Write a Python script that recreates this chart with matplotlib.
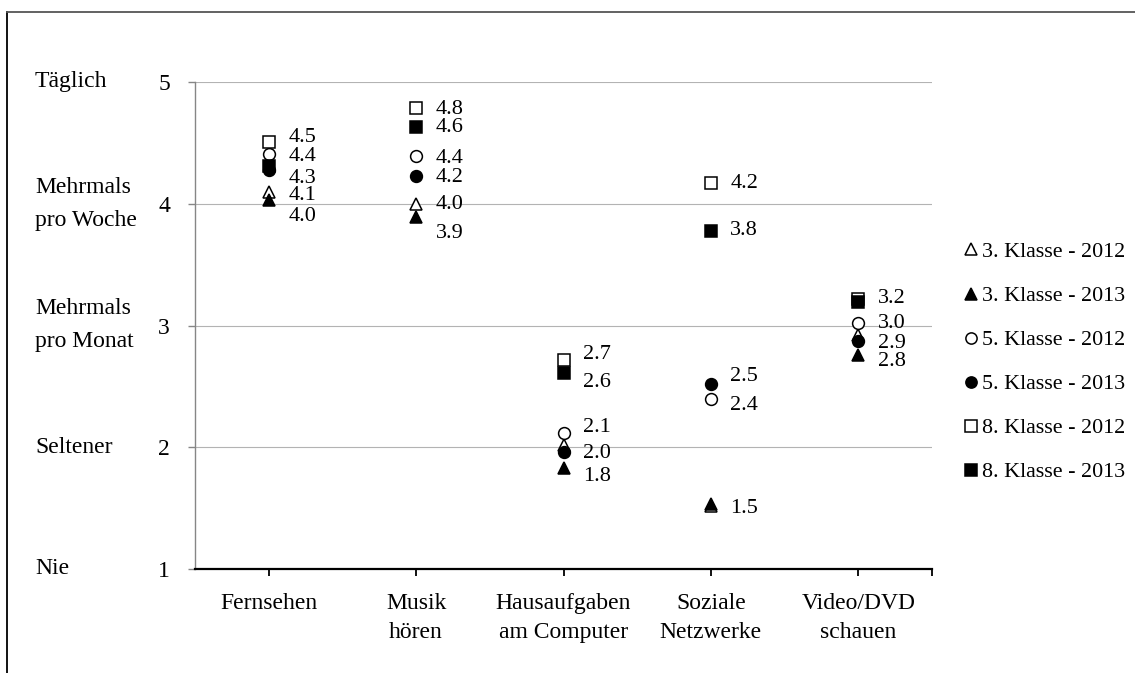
import numpy as np
import matplotlib.pyplot as plt
from matplotlib.lines import Line2D
import matplotlib.transforms as mtransforms

plt.rcParams['font.family'] = ['Liberation Serif', 'DejaVu Serif']

# --- DATA ---
categories = ["Fernsehen", "Musik\nhören", "Hausaufgaben\nam Computer",
              "Soziale\nNetzwerke", "Video/DVD\nschauen"]
level_labels = ["Nie", "Seltener", "Mehrmals\npro Monat", "Mehrmals\npro Woche", "Täglich"]
level_values = [1, 2, 3, 4, 5]

series_names = ["3. Klasse - 2012", "3. Klasse - 2013", "5. Klasse - 2012",
                "5. Klasse - 2013", "8. Klasse - 2012", "8. Klasse - 2013"]
klasse3_2012 = [4.10, 4.00, 2.02, 1.52, 2.92]
klasse3_2013 = [4.03, 3.89, 1.83, 1.53, 2.76]
klasse5_2012 = [4.41, 4.39, 2.12, 2.40, 3.02]
klasse5_2013 = [4.28, 4.23, 1.96, 2.52, 2.87]
klasse8_2012 = [4.51, 4.79, 2.72, 4.17, 3.22]
klasse8_2013 = [4.31, 4.63, 2.61, 3.78, 3.19]
series_values = [klasse3_2012, klasse3_2013, klasse5_2012,
                 klasse5_2013, klasse8_2012, klasse8_2013]

# marker style per series: (marker, filled)
styles = [('^', False), ('^', True), ('o', False), ('o', True), ('s', False), ('s', True)]

# which points get a value label: (category, series, vertical nudge in px, + = down)
label_specs = [
    (0, 4, -4), (0, 2, 3), (0, 5, 12), (0, 0, 4), (0, 1, 16),
    (1, 4, 2), (1, 5, 0), (1, 2, 2), (1, 3, 2), (1, 0, 1), (1, 1, 16),
    (2, 4, -5), (2, 5, 10), (2, 2, -5), (2, 3, 1), (2, 1, 9),
    (3, 4, 0), (3, 5, 0), (3, 3, -7), (3, 2, 7), (3, 1, 4),
    (4, 4, 0), (4, 2, 0), (4, 3, 2), (4, 1, 7),
]

FS = 17
fig = plt.figure(figsize=(11.35, 6.73), dpi=100)
ax = fig.add_axes([195 / 1135, 1 - 569 / 673, (932 - 195) / 1135, (569 - 82) / 673])

x = np.arange(1, len(categories) + 1)
for vals, (mk, filled), name in zip(series_values, styles, series_names):
    ax.plot(x, vals, linestyle='none', marker=mk, markersize=8.5,
            markerfacecolor='black' if filled else 'white',
            markeredgecolor='black', markeredgewidth=1.1, label=name, zorder=3)

for ci, si, dy in label_specs:
    v = series_values[si][ci]
    ax.annotate(f"{v:.1f}", (x[ci], v), xytext=(14, -dy * 0.72),
                textcoords='offset points', ha='left', va='center', fontsize=16)

ax.set_xlim(0.5, 5.5)
ax.set_ylim(1, 5)
ax.set_xticks(list(x) + [5.5])
ax.set_xticklabels(categories + [""], fontsize=FS, linespacing=1.55)
ax.set_yticks(level_values)
ax.set_yticklabels([str(v) for v in level_values], fontsize=FS)

ax.grid(axis='y', color='#b3b3b3', linewidth=0.8)
ax.set_axisbelow(True)
for s in ['top', 'right']:
    ax.spines[s].set_visible(False)
ax.spines['left'].set_color('#868686')
ax.spines['left'].set_linewidth(1.0)
ax.spines['bottom'].set_color('black')
ax.spines['bottom'].set_linewidth(1.6)
ax.tick_params(axis='y', colors='#868686', labelcolor='black', length=5, width=1.0, pad=13)
ax.tick_params(axis='x', colors='black', length=5, width=1.3, pad=12)

# category names for the rating levels at the far left
trans = mtransforms.blended_transform_factory(fig.transFigure, ax.transData)
for lv, txt in zip(level_values, level_labels):
    ax.text(35 / 1135, lv, txt, transform=trans, ha='left', va='center',
            fontsize=FS, linespacing=1.75)

leg = ax.legend(loc='upper left', bbox_to_anchor=(956 / 1135, 1 - 233 / 673),
                bbox_transform=fig.transFigure, frameon=False, fontsize=15.8,
                markerscale=0.95, handlelength=0.6, handletextpad=0.2,
                labelspacing=1.08, borderaxespad=0)

# outer frame lines (left and top)
fig.add_artist(Line2D([7 / 1135, 7 / 1135], [0, 1 - 12 / 673], transform=fig.transFigure,
                      color='black', linewidth=1.3))
fig.add_artist(Line2D([7 / 1135, 1], [1 - 12 / 673, 1 - 12 / 673], transform=fig.transFigure,
                      color='#555555', linewidth=1.3))

fig.savefig('out.png', dpi=100)
